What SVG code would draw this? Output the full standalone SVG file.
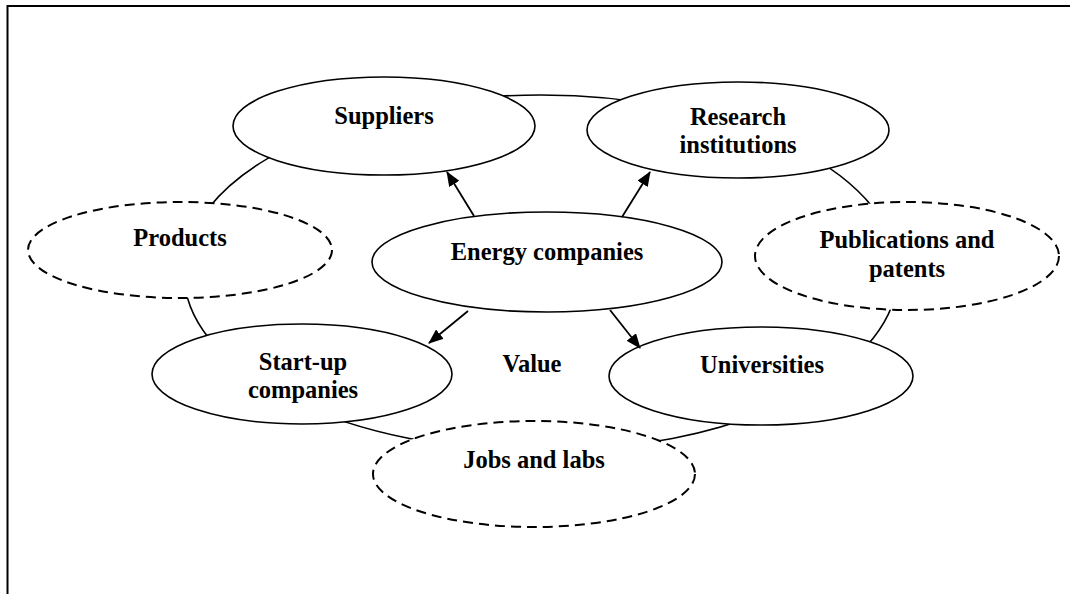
<svg xmlns="http://www.w3.org/2000/svg" width="1070" height="594" viewBox="0 0 1070 594">
<style>
.solid{fill:#fff;stroke:#000;stroke-width:1.6}
.dash{fill:#fff;stroke:#000;stroke-width:2;stroke-dasharray:10 6}
.lbl{font-family:"Liberation Serif","Times New Roman",serif;font-weight:bold;font-size:24.5px;fill:#000;text-anchor:middle}
.conn{stroke:#000;stroke-width:1.8;fill:none}
</style>
<defs>
<marker id="arr" viewBox="0 0 15 12" refX="14" refY="6" markerWidth="15" markerHeight="12" markerUnits="userSpaceOnUse" orient="auto">
<path d="M0,0 L15,6 L0,12 z" fill="#000"/>
</marker>
</defs>
<rect x="0" y="0" width="1070" height="594" fill="#fff"/>
<rect x="7.5" y="6" width="1080" height="600" fill="none" stroke="#000" stroke-width="2"/>
<g id="ring">
<ellipse cx="541" cy="273" rx="357" ry="178" fill="none" stroke="#000" stroke-width="1.6"/>
</g>
<g id="suppliers">
<ellipse class="solid" cx="384" cy="126" rx="151" ry="49"/>
<text class="lbl" x="384" y="124">Suppliers</text>
</g>
<g id="research">
<ellipse class="solid" cx="738" cy="130" rx="151" ry="48"/>
<text class="lbl" x="738" y="125">Research</text>
<text class="lbl" x="738" y="153">institutions</text>
</g>
<g id="products">
<ellipse class="dash" cx="180" cy="250" rx="152" ry="48"/>
<text class="lbl" x="180" y="246">Products</text>
</g>
<g id="publications">
<ellipse class="dash" cx="907" cy="256" rx="152" ry="54"/>
<text class="lbl" x="907" y="248">Publications and</text>
<text class="lbl" x="907" y="277">patents</text>
</g>
<g id="energy">
<ellipse class="solid" cx="547" cy="262" rx="175" ry="50"/>
<text class="lbl" x="547" y="260">Energy companies</text>
</g>
<g id="startup">
<ellipse class="solid" cx="302" cy="374" rx="150" ry="50"/>
<text class="lbl" x="303" y="370">Start-up</text>
<text class="lbl" x="303" y="398">companies</text>
</g>
<g id="universities">
<ellipse class="solid" cx="761" cy="376" rx="152" ry="49"/>
<text class="lbl" x="762" y="373">Universities</text>
</g>
<g id="jobs">
<ellipse class="dash" cx="534" cy="474" rx="161" ry="53"/>
<text class="lbl" x="534" y="468">Jobs and labs</text>
</g>
<g id="value">
<text class="lbl" x="532" y="372">Value</text>
</g>
<g id="connectors">
<line class="conn" x1="474" y1="216" x2="447" y2="172" marker-end="url(#arr)"/>
<line class="conn" x1="622" y1="217" x2="650" y2="172" marker-end="url(#arr)"/>
<line class="conn" x1="468" y1="311" x2="429" y2="343" marker-end="url(#arr)"/>
<line class="conn" x1="610" y1="310" x2="640" y2="348" marker-end="url(#arr)"/>
</g>
</svg>
